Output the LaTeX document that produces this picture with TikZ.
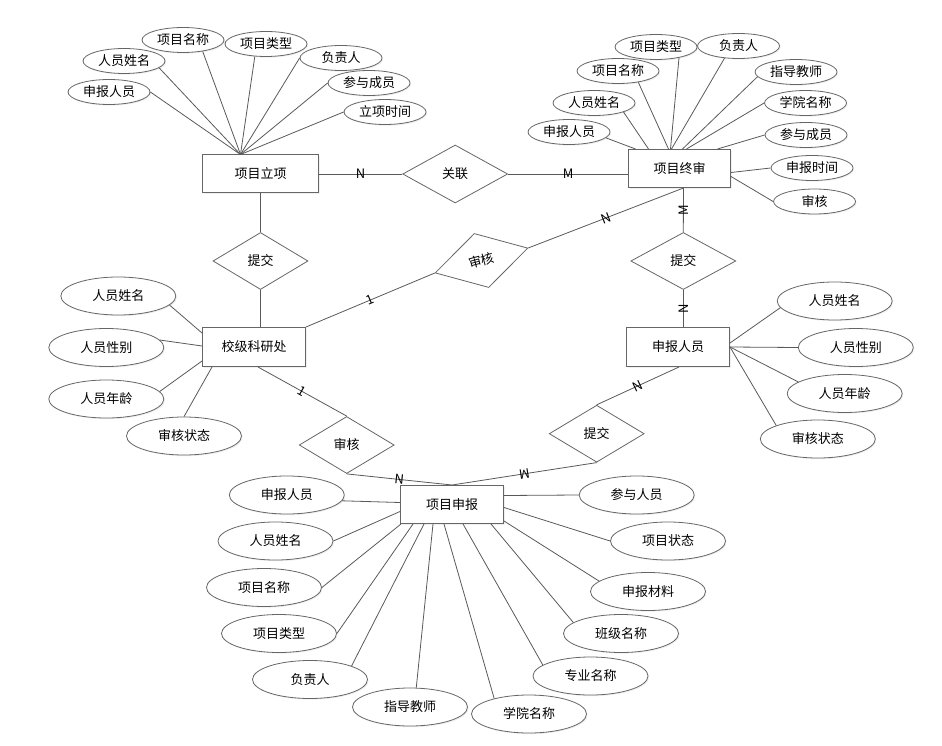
\documentclass[tikz,border=0pt]{standalone}
\usepackage{fontspec}
\setmainfont{Noto Sans CJK SC}
\usetikzlibrary{shapes.geometric}
\usetikzlibrary{calc}
\usetikzlibrary{shadows}

\begin{document}
\begin{tikzpicture}[x=1pt, y=-1pt, font=\fontsize{13}{15}\selectfont,
  line/.style={draw=black!65, line width=0.8pt},
  entity/.style={draw=black!60, line width=1pt, rectangle, fill=white, minimum height=38pt, inner sep=0pt,
    drop shadow={opacity=0.12, shadow xshift=1.2pt, shadow yshift=-1.2pt}},
  attr/.style={draw=black!60, line width=0.8pt, ellipse, fill=white, minimum width=115pt, minimum height=38pt, inner sep=0pt,
    drop shadow={opacity=0.12, shadow xshift=1.2pt, shadow yshift=-1.2pt}},
  smallattr/.style={attr, minimum width=82pt, minimum height=25pt},
  rel/.style={draw=black!60, line width=0.8pt, diamond, fill=white, minimum width=95pt, minimum height=57pt, inner sep=0pt},
  lbl/.style={midway, inner sep=0pt}]
  \useasboundingbox (0,0) rectangle (942,746);

  % 项目立项
  \node[entity, minimum width=116pt] (lx) at (260.5,174) {项目立项};
  \coordinate (lxtop) at ($(lx.north)+(-20,0)$);
  \node[smallattr] (sbrylx) at (109,92) {申报人员};
  \node[smallattr] (ryxmlx) at (124,61) {人员姓名};
  \node[smallattr] (xmmclx) at (183,40) {项目名称};
  \node[smallattr] (xmlxlx) at (266,44) {项目类型};
  \node[smallattr] (fzrlx) at (341,58) {负责人};
  \node[smallattr] (cycylx) at (369,83) {参与成员};
  \node[smallattr] (lxsjlx) at (385,112) {立项时间};

  \draw[line] (sbrylx.east) -- (lxtop);
  \draw[line] (ryxmlx.-11) -- (lxtop);
  \draw[line] (xmmclx.-30) -- (lxtop);
  \draw[line] (xmlxlx.-132) -- (lxtop);
  \draw[line] (fzrlx.west) -- (lxtop);
  \draw[line] (cycylx.west) -- (lxtop);
  \draw[line] (lxsjlx.west) -- (lxtop);

  % 项目终审
  \node[entity, minimum width=102pt] (zs) at (679.5,168.5) {项目终审};
  \coordinate (zsbot) at ($(zs.south)+(4,0)$);
  \node[smallattr] (sbryzs) at (569,132) {申报人员};
  \node[smallattr] (ryxmzs) at (594,103) {人员姓名};
  \node[smallattr] (xmmczs) at (618,71) {项目名称};
  \node[smallattr] (xmlxzs) at (656,47) {项目类型};
  \node[smallattr] (fzrzs) at (738.5,46) {负责人};
  \node[smallattr] (zdjszs) at (796,72) {指导教师};
  \node[smallattr] (xymczs) at (805.5,103) {学院名称};
  \node[smallattr] (cycyzs) at (806,135) {参与成员};
  \node[smallattr] (sbsjzs) at (812,168) {申报时间};
  \node[smallattr] (shzs) at (814.5,201.5) {审核};

  \draw[line] (sbryzs.-9) -- ($(zs.north)+(-44,0)$);
  \draw[line] (ryxmzs.-17) -- ($(zs.north)+(-31,0)$);
  \draw[line] (xmmczs.-29) -- ($(zs.north)+(-11,0)$);
  \draw[line] (xmlxzs.-25) -- ($(zs.north)+(-9,0)$);
  \draw[line] (fzrzs.-139) -- ($(zs.north)+(-8,0)$);
  \draw[line] (zdjszs.-173) -- ($(zs.north)+(3,0)$);
  \draw[line] (xymczs.west) -- ($(zs.north)+(7,0)$);
  \draw[line] (cycyzs.west) -- ($(zs.north)+(38,0)$);
  \draw[line] (sbsjzs.west) -- ($(zs.east)+(0,4)$);
  \draw[line] (shzs.west) -- ($(zs.east)+(0,8)$);

  % 校级科研处
  \node[entity, minimum width=103pt, minimum height=39pt] (ky) at (254,347) {校级科研处};
  \node[attr] (ryxmky) at (118.3,296) {人员姓名};
  \node[attr] (ryxbky) at (106.3,347.5) {人员性别};
  \node[attr] (rynlky) at (106.3,399) {人员年龄};
  \node[attr] (shztky) at (184,436) {审核状态};

  \draw[line] (ryxmky.-10) -- ($(ky.west)+(0,-14)$);
  \draw[line] (ryxbky.8) -- ($(ky.west)+(0,-1)$);
  \draw[line] (rynlky.8) -- ($(ky.west)+(0,14)$);
  \draw[line] (shztky.north) -- ($(ky.south west)+(10,0)$);

  % 申报人员
  \node[entity, minimum width=103pt, minimum height=39pt] (sb) at (678,347) {申报人员};
  \node[attr] (ryxmsb) at (834.7,301) {人员姓名};
  \node[attr] (ryxbsb) at (855.8,347.5) {人员性别};
  \node[attr] (rynlsb) at (844.7,393.5) {人员年龄};
  \node[attr] (shztsb) at (817.8,439) {审核状态};

  \draw[line] (ryxmsb.-173) -- ($(sb.east)+(0,-4)$);
  \draw[line] (ryxbsb.west) -- (sb.east);
  \draw[line] (rynlsb.166) -- (sb.east);
  \draw[line] (shztsb.162) -- (sb.east);

  % 项目申报
  \node[entity, minimum width=103pt] (sbxm) at (452,504.5) {项目申报};
  \node[attr] (sbryxm) at (286.8,495) {申报人员};
  \node[attr] (ryxmxm) at (275.5,541) {人员姓名};
  \node[attr] (xmmcxm) at (264,587.5) {项目名称};
  \node[attr] (xmlxxm) at (279,633.5) {项目类型};
  \node[attr] (fzrxm) at (310,679.5) {负责人};
  \node[attr] (zdjsxm) at (410,707) {指导教师};
  \node[attr] (xymcxm) at (529,714) {学院名称};
  \node[attr] (zymcxm) at (590.5,676) {专业名称};
  \node[attr] (bjmcxm) at (621,633.5) {班级名称};
  \node[attr] (sbclxm) at (648,591.5) {申报材料};
  \node[attr] (xmztxm) at (668,541) {项目状态};
  \node[attr] (cyryxm) at (636.7,495) {参与人员};

  \draw[line] (sbryxm.-6) -- ($(sbxm.west)+(0,-2)$);
  \draw[line] (ryxmxm.east) -- ($(sbxm.west)+(0,7)$);
  \draw[line] (xmmcxm.east) -- ($(sbxm.south west)+(1,0)$);
  \draw[line] (xmlxxm.east) -- ($(sbxm.south west)+(13,0)$);
  \draw[line] (fzrxm.18) -- ($(sbxm.south west)+(24,0)$);
  \draw[line] (zdjsxm.72) -- ($(sbxm.south west)+(33,0)$);
  \draw[line] (xymcxm.156) -- ($(sbxm.south west)+(44,0)$);
  \draw[line] (zymcxm.167) -- ($(sbxm.south west)+(63,0)$);
  \draw[line] (bjmcxm.167) -- ($(sbxm.south west)+(91,0)$);
  \draw[line] (sbclxm.168) -- ($(sbxm.south east)+(0,-3)$);
  \draw[line] (xmztxm.west) -- ($(sbxm.east)+(0,3)$);
  \draw[line] (cyryxm.west) -- ($(sbxm.east)+(0,-9)$);

  % relationships
  \node[rel, minimum width=105pt, minimum height=58pt] (gl) at (455.2,174) {关联};
  \node[rel] (tjky) at (260.5,261) {提交};
  \node[rel, rotate=15, minimum width=96pt, minimum height=56pt] (shky) at (481.5,260.5) {审核};
  \node[rel, minimum width=105pt] (tjsb) at (683.3,261) {提交};
  \node[rel] (shxm) at (346.7,445) {审核};
  \node[rel] (tjxm) at (596.7,433.7) {提交};

  \path[line] (lx.east) edge node[lbl] {N} (gl.west);
  \path[line] (gl.east) edge node[lbl] {M} (zs.west |- gl.east);
  \path[line] (lx.south) edge (tjky.north);
  \path[line] (tjky.south) edge (tjky.south |- ky.north);
  \path[line] (ky.north east) edge node[lbl, rotate=23] {1} (shky.west);
  \path[line] (shky.east) edge node[lbl, rotate=21] {N} (zsbot);
  \path[line] (tjsb.north) edge node[lbl, rotate=90] {M} (zsbot);
  \path[line] (tjsb.south) edge node[lbl, rotate=90] {N} (tjsb.south |- sb.north);
  \path[line] ($(ky.south)+(4,0)$) edge node[lbl, rotate=-29.5] {1} (shxm.north);
  \path[line] ($(sb.south)+(1,0)$) edge node[lbl, rotate=25] {N} (tjxm.north);
  \path[line] (shxm.south) edge node[lbl, rotate=-6] {N} (sbxm.north);
  \path[line] (tjxm.south) edge node[lbl, rotate=189] {M} (sbxm.north);
\end{tikzpicture}
\end{document}
